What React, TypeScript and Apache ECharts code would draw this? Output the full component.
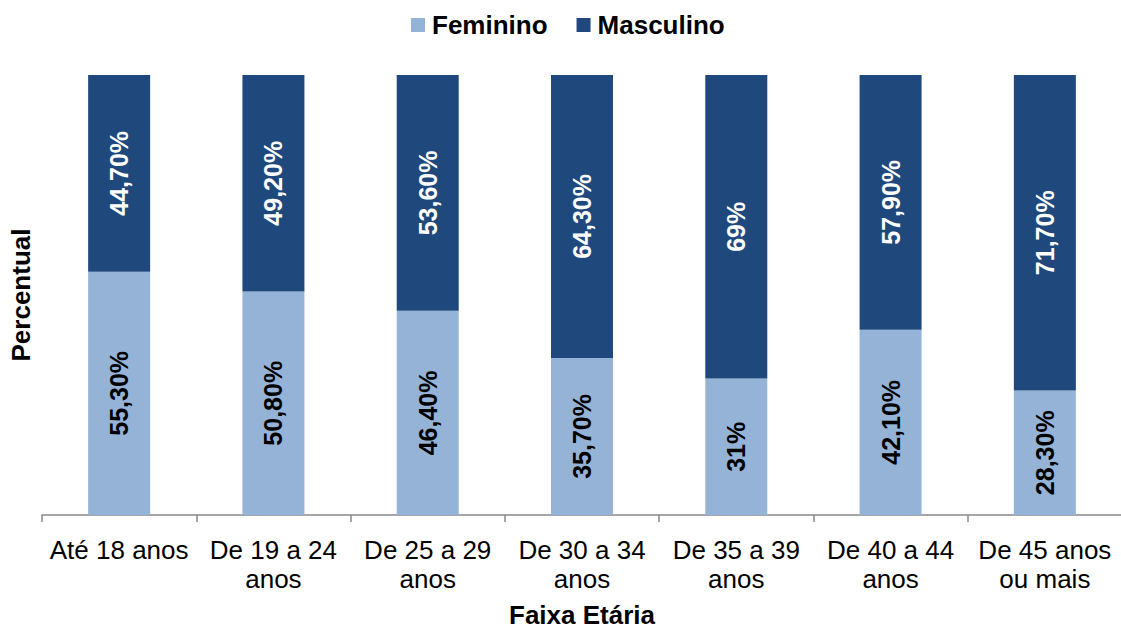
import React, { useEffect, useRef } from "react";
import * as echarts from "echarts";

const categories = [
  "Até 18 anos",
  "De 19 a 24\nanos",
  "De 25 a 29\nanos",
  "De 30 a 34\nanos",
  "De 35 a 39\nanos",
  "De 40 a 44\nanos",
  "De 45 anos\nou mais",
];
const feminino = [55.3, 50.8, 46.4, 35.7, 31, 42.1, 28.3];
const masculino = [44.7, 49.2, 53.6, 64.3, 69, 57.9, 71.7];

const fmt = (v: number) =>
  Number.isInteger(v) ? `${v}%` : v.toFixed(2).replace(".", ",") + "%";

export default function App() {
  const ref = useRef<HTMLDivElement>(null);
  useEffect(() => {
    if (!ref.current) return;
    const chart = echarts.init(ref.current, null, { renderer: "svg" });
    const font = "Liberation Sans, Arial, sans-serif";
    chart.setOption({
      animation: false,
      textStyle: { fontFamily: font },
      legend: {
        data: ["Feminino", "Masculino"],
        top: 7,
        left: 406,
        itemWidth: 14,
        itemHeight: 14,
        itemGap: 29,
        icon: "rect",
        textStyle: { fontFamily: font, fontSize: 26, fontWeight: "bold", color: "#000", padding: [0, 0, 0, 2] },
      },
      grid: { left: 42, right: -1, top: 75, bottom: 114, containLabel: false, outerBoundsMode: "none" },
      xAxis: {
        type: "category",
        data: categories,
        boundaryGap: true,
        axisLine: { lineStyle: { color: "#898989", width: 1.5 } },
        axisTick: { show: true, length: 7, lineStyle: { color: "#898989", width: 1.5 } },
        axisLabel: {
          color: "#000",
          fontSize: 26,
          fontFamily: font,
          lineHeight: 29,
          margin: 20,
          interval: 0,
        },
        name: "Faixa Etária",
        nameLocation: "middle",
        nameGap: 87,
        nameTextStyle: { fontSize: 26, fontWeight: "bold", color: "#000", fontFamily: font },
      },
      yAxis: {
        type: "value",
        min: 0,
        max: 100,
        axisLine: { show: false },
        axisTick: { show: false },
        axisLabel: { show: false },
        splitLine: { show: false },
        name: "Percentual",
        nameLocation: "middle",
        nameGap: 8,
        nameTextStyle: { fontSize: 26, fontWeight: "bold", color: "#000", fontFamily: font },
      },
      series: [
        {
          name: "Feminino",
          type: "bar",
          stack: "total",
          barWidth: 62,
          data: feminino,
          itemStyle: { color: "#95B3D7" },
          label: {
            show: true,
            position: "inside",
            rotate: 90,
            formatter: (p: any) => fmt(p.value),
            color: "#000",
            fontSize: 25,
            fontWeight: "bold",
            fontFamily: font,
          },
        },
        {
          name: "Masculino",
          type: "bar",
          stack: "total",
          barWidth: 62,
          data: masculino,
          itemStyle: { color: "#1F497D" },
          label: {
            show: true,
            position: "inside",
            rotate: 90,
            formatter: (p: any) => fmt(p.value),
            color: "#fff",
            fontSize: 25,
            fontWeight: "bold",
            fontFamily: font,
          },
        },
      ],
    });
    return () => chart.dispose();
  }, []);
  return <div ref={ref} style={{ width: 1121, height: 629, position: "absolute", left: 0, top: 0 }} />;
}
